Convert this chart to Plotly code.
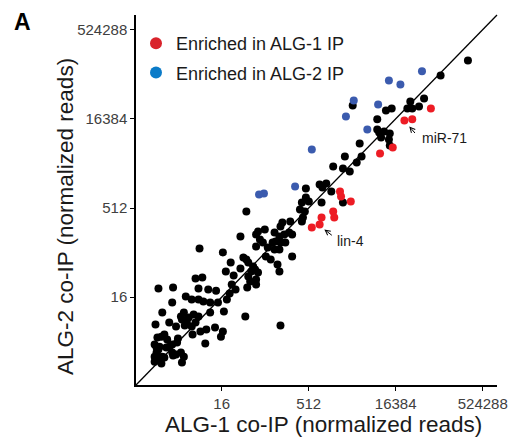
import plotly.graph_objects as go

# log2(normalized reads)
black_alg1 = [5.08, 2.73, 4.07, 4.52, 5.08, 4.24, 4.69, 2.50, 2.89, 4.58, 4.80, 4.46, 4.30, 0.37, 1.21,
              2.67, 3.23, 3.68, 1.94, 2.28, 2.67, 2.95, 3.34, 3.79, 1.16, 5.47, 0.59, 1.66, 1.83, 2.11,
              2.39, 2.67, 3.34, 4.13, 0.20, 0.99, 1.38, 1.72, 2.00, 2.28, 2.50, 0.71, 0.54, 0.31, 2.78,
              3.12, 3.62, 4.07, 3.96, 1.49, 2.33, 3.06, 5.36, 0.15, 0.26, 0.43, 0.82, 0.99, 1.16, 1.44,
              1.16, 1.38, 1.66, 1.83, 0.26, 0.15, 0.31, 0.59, 0.15, 0.43, 0.71, 0.54, 1.72, 1.21, 0.37,
              0.87, 1.88,
              5.42, 8.61, 9.01, 9.74, 8.50, 8.78, 8.67, 8.61, 7.94, 7.49, 7.38, 6.48, 6.09, 5.98, 7.04,
              7.32, 7.60, 7.88, 8.05, 7.10, 6.93, 7.38, 7.66, 6.20, 6.37, 5.98, 6.65, 7.04, 7.32, 6.54,
              6.82, 8.05, 7.21, 7.32, 5.42, 5.53, 5.25, 5.81, 5.92, 5.70, 6.09, 5.98, 5.53, 5.64, 5.98,
              7.38,
              8.84, 9.63, 10.01, 9.79, 10.30, 8.84, 10.97, 10.41, 10.97, 11.36, 11.08, 11.76, 12.04,
              11.93, 12.94, 12.94, 13.05, 13.33, 13.66, 13.16, 13.61, 13.66, 11.53, 13.44, 13.77, 14.67,
              14.95, 15.34, 14.84, 15.63, 16.58, 18.15]
black_alg2 = [7.40, 6.73, 6.51, 5.95, 5.61, 5.44, 5.22, 5.05, 5.10, 4.71, 4.43, 4.21, 3.87, 4.49, 4.54,
              4.49, 4.43, 4.37, 4.04, 3.87, 3.87, 3.76, 3.70, 3.70, 3.70, 4.54, 3.14, 2.92, 3.14, 2.86,
              3.03, 2.92, 3.14, 3.20, 2.47, 2.58, 2.36, 2.75, 2.58, 2.36, 2.58, 1.91, 1.79, 1.74, 2.08,
              2.19, 2.30, 2.08, 1.79, 1.68, 1.91, 1.40, 2.92, 1.35, 1.18, 1.23, 1.18, 1.23, 1.35, 1.46,
              0.90, 0.79, 0.90, 0.67, 0.90, 0.67, 0.62, 0.67, 0.39, 0.50, 0.62, 0.28, 0.34, 0.73, 1.07,
              1.63, 2.41,
              8.81, 9.31, 9.37, 9.31, 8.92, 8.81, 8.47, 8.24, 8.24, 8.19, 7.96, 7.80, 7.68, 7.52, 7.63,
              7.40, 7.52, 7.63, 7.52, 7.12, 7.07, 7.07, 7.07, 7.23, 7.07, 6.84, 6.79, 6.67, 6.67, 6.28,
              6.11, 6.28, 5.83, 5.44, 6.11, 5.95, 6.23, 5.72, 5.55, 5.44, 5.38, 4.99, 5.16, 4.88, 4.71,
              2.41,
              10.10, 10.32, 10.38, 10.15, 9.93, 9.59, 9.31, 11.33, 11.22, 11.05, 11.89, 11.55, 11.89,
              12.62, 13.97, 13.40, 13.24, 13.29, 13.18, 12.96, 12.84, 12.51, 14.75, 14.47, 14.58, 14.58,
              14.58, 14.69, 14.97, 15.14, 16.43, 17.27]

red_alg1 = [9.18, 9.63, 9.74, 10.41, 10.47, 10.80, 10.86, 11.42, 13.10, 13.83, 14.50, 14.95, 16.02]
red_alg2 = [7.91, 8.08, 8.47, 8.81, 8.47, 9.93, 9.65, 9.37, 12.06, 12.39, 13.91, 13.97, 14.58]

blue_alg1 = [15.51, 13.61, 14.27, 11.59, 12.99, 11.14, 12.37, 9.18, 8.22, 6.43, 6.15]
blue_alg2 = [16.66, 16.15, 15.93, 15.03, 14.81, 14.13, 13.40, 12.28, 10.21, 9.81, 9.76]

tick_vals = [16, 512, 16384, 524288]
tick_text = ["16", "512", "16384", "524288"]
axis_log2_range = [-0.92, 19.82]

# labelled miRNAs (log2 reads of the pointed points)
labels = ["miR-71", "lin-4"]
label_alg1 = [14.78, 9.90]
label_alg2 = [13.57, 7.80]

FONT = "Liberation Sans, Arial, sans-serif"
RED_DATA, BLUE_DATA = "#ED1C24", "#3B5BAE"
RED_LEG, BLUE_LEG = "#D9232B", "#0B7BC8"


def reads(a):
    return [2 ** v for v in a]


fig = go.Figure()
fig.add_trace(go.Scatter(x=reads(black_alg1), y=reads(black_alg2), mode="markers",
                         marker=dict(color="black", size=8), showlegend=False, hoverinfo="skip"))
fig.add_trace(go.Scatter(x=reads(blue_alg1), y=reads(blue_alg2), mode="markers",
                         marker=dict(color=BLUE_DATA, size=8), showlegend=False))
fig.add_trace(go.Scatter(x=reads(red_alg1), y=reads(red_alg2), mode="markers",
                         marker=dict(color=RED_DATA, size=8), showlegend=False))
# legend entries
fig.add_trace(go.Scatter(x=[None], y=[None], mode="markers", name="Enriched in ALG-1 IP",
                         legendgroup="a", marker=dict(color=RED_LEG, size=12)))
fig.add_trace(go.Scatter(x=[None], y=[None], mode="markers", name="Enriched in ALG-2 IP",
                         legendgroup="b", marker=dict(color=BLUE_LEG, size=12)))

log10_2 = 0.30102999566
rng = [v * log10_2 for v in axis_log2_range]
axis_common = dict(type="log", range=rng, tickvals=tick_vals, ticktext=tick_text,
                   showgrid=False, zeroline=False, showline=True, linecolor="black",
                   linewidth=1.5, ticks="outside", ticklen=4, tickwidth=1.2, tickcolor="black",
                   tickfont=dict(family=FONT, size=15, color="#404040"))

fig.update_layout(
    width=519, height=442, autosize=False,
    margin=dict(l=136, r=14, t=15, b=57),
    paper_bgcolor="white", plot_bgcolor="white",
    xaxis=axis_common, yaxis=axis_common,
    showlegend=True,
    legend=dict(x=0.0, y=0.973, xanchor="left", yanchor="top", traceorder="grouped",
                tracegroupgap=3, font=dict(family=FONT, size=18, color="#1a1a1a"),
                bgcolor="rgba(0,0,0,0)", itemwidth=30),
    shapes=[dict(type="line", xref="paper", yref="paper", x0=0, y0=0, x1=1, y1=1,
                 line=dict(color="black", width=1.3), layer="below")],
)

anns = []
shifts = {"miR-71": (7, 8, 11, -11), "lin-4": (9, 7, 11, -12)}
for name, lx, ly in zip(labels, label_alg1, label_alg2):
    ax, ay, xs, ys = shifts[name]
    anns.append(dict(x=lx * log10_2, y=ly * log10_2, xref="x", yref="y", text="", showarrow=True,
                     ax=ax, ay=ay, arrowhead=5, arrowsize=1, arrowwidth=1, arrowcolor="black",
                     standoff=0))
    anns.append(dict(x=lx * log10_2, y=ly * log10_2, xref="x", yref="y", text=name, showarrow=False,
                     xanchor="left", yanchor="middle", xshift=xs, yshift=ys,
                     font=dict(family=FONT, size=14, color="#1a1a1a")))
anns.append(dict(x=0.520, y=-0.108, xref="paper", yref="paper", text="ALG-1 co-IP (normalized reads)",
                 showarrow=False, xanchor="center", yanchor="middle",
                 font=dict(family=FONT, size=22.5, color="#1a1a1a")))
anns.append(dict(x=-0.1965, y=0.454, xref="paper", yref="paper", text="ALG-2 co-IP (normalized reads)",
                 showarrow=False, textangle=-90, xanchor="center", yanchor="middle",
                 font=dict(family=FONT, size=22.5, color="#1a1a1a")))
anns.append(dict(x=-0.3157, y=0.981, xref="paper", yref="paper", text="<b>A</b>",
                 showarrow=False, xanchor="center", yanchor="middle",
                 font=dict(family=FONT, size=23, color="black")))
fig.update_layout(annotations=anns)

fig.write_html("out.html")
